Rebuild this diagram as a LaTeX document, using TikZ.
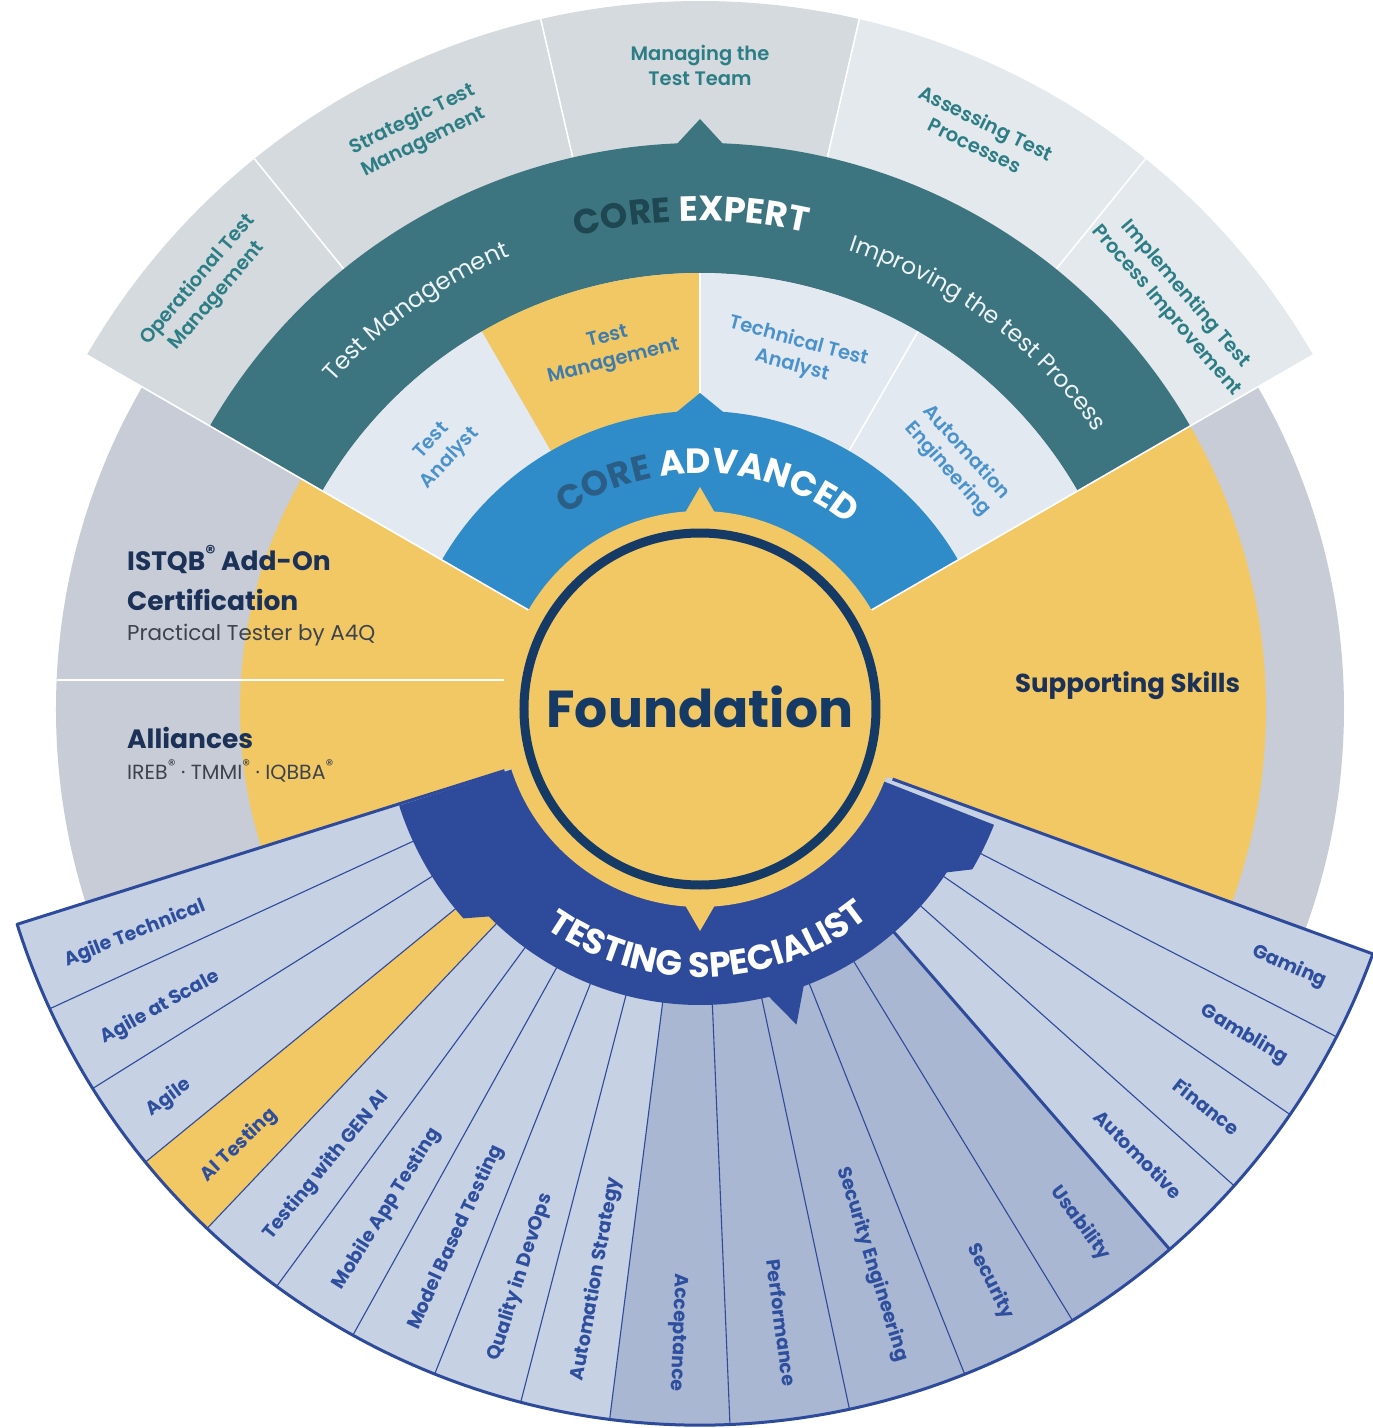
\documentclass[tikz,border=0pt]{standalone}
\usepackage{fontspec}
\setmainfont{Poppins}
\IfFontExistsTF{Poppins SemiBold}{\newfontfamily\psemi{Poppins SemiBold}}{%
 \IfFontExistsTF{Poppins-SemiBold}{\newfontfamily\psemi{Poppins-SemiBold}}{%
  \IfFontExistsTF{Poppins-SemiBold.ttf}{\newfontfamily\psemi{Poppins-SemiBold.ttf}}{%
   \IfFontExistsTF{Poppins-SemiBold.otf}{\newfontfamily\psemi{Poppins-SemiBold.otf}}{%
    \newfontfamily\psemi{Poppins}[FakeBold=2]}}}}
\usetikzlibrary{decorations.text}
\definecolor{ylw}{HTML}{F2C864}
\definecolor{greyc}{HTML}{C8CCD6}
\definecolor{advblue}{HTML}{2F8CC9}
\definecolor{cexp}{HTML}{3C7480}
\definecolor{cinner}{HTML}{E3E9F1}
\definecolor{couterA}{HTML}{D4DADD}
\definecolor{couterB}{HTML}{E3E9EC}
\definecolor{cnavy}{HTML}{2E4A9B}
\definecolor{cfanL}{HTML}{C6D1E4}
\definecolor{cfanD}{HTML}{A9B7D2}
\definecolor{cfound}{HTML}{163A66}
\definecolor{ctealtxt}{HTML}{2C7D86}
\definecolor{cbluetxt}{HTML}{4A92CB}
\definecolor{cdarktxt}{HTML}{1C3157}
\definecolor{cgreytxt}{HTML}{3D434D}
\definecolor{cexpcore}{HTML}{1E4752}
\definecolor{cadvcore}{HTML}{2A5E86}
\definecolor{cfantxt}{HTML}{2E4E9E}
\newcommand\wsector[5]{\fill[#1] (#2:#4pt) arc[start angle=#2,end angle=#3,radius=#4pt] -- (#3:#5pt) arc[start angle=#3,end angle=#2,radius=#5pt] -- cycle;}
\newcommand\regm{\raisebox{0.4em}{\scalebox{0.75}{\textregistered}}}
\begin{document}
\begin{tikzpicture}[x=1pt,y=1pt,
  fanlbl/.style={text=cfantxt,font=\bfseries\fontsize{19}{19}\selectfont,inner sep=0pt},
  explbl/.style={text=ctealtxt,font=\psemi\fontsize{19.5}{25}\selectfont,align=center,inner sep=0pt},
  innlbl/.style={text=cbluetxt,font=\psemi\fontsize{19.5}{25}\selectfont,align=center,inner sep=0pt},
  fanline/.style={draw=cnavy,line width=1.1pt},
  fanbold/.style={draw=cnavy,line width=3pt,line join=round},
  sepw/.style={draw=white,line width=1.6pt},
  lefttxt/.style={anchor=base west,inner sep=0pt}]
\useasboundingbox (-700,-719) rectangle (673,709);
\fill[white] (-700,-719) rectangle (673,709);
% grey circle
\fill[greyc] (0,0) circle[radius=644pt];
% yellow regions
\wsector{ylw}{150}{197.5}{100}{460}
\wsector{ylw}{-20}{30}{100}{566}
\draw[sepw] (-643.3,29) -- (-190,29);
% outer expert sectors
\wsector{couterA}{129}{150}{560}{708}
\wsector{couterA}{103}{129}{560}{708}
\wsector{couterA}{77}{103}{560}{708}
\wsector{couterB}{51}{77}{560}{708}
\wsector{couterB}{30}{51}{560}{708}
\foreach \a in {129,103,77,51} \draw[sepw] (\a:566pt) -- (\a:708pt);
% core expert band
\wsector{cexp}{30}{150}{436}{566}
\fill[cexp] (87.3:562pt) -- (90:590pt) -- (92.7:562pt) -- cycle;
% inner advanced sectors
\wsector{cinner}{120}{150}{296}{436}
\wsector{ylw}{90}{120}{296}{436}
\wsector{cinner}{30}{90}{296}{436}
\foreach \a in {90,60} \draw[sepw] (\a:298pt) -- (\a:436pt);
% core advanced band
\wsector{advblue}{30}{150}{190}{298}
\fill[advblue] (85:296pt) -- (90:316pt) -- (95:296pt) -- cycle;
\draw[sepw] (150:198pt) -- (150:708pt);
\draw[sepw] (30:198pt) -- (30:708pt);
% specialist fan
\wsector{cfanL}{197.5}{219.25}{200}{716}
\wsector{ylw}{219.25}{226.5}{200}{716}
\wsector{cfanL}{226.5}{262.75}{200}{716}
\wsector{cfanD}{262.75}{311}{200}{716}
\wsector{cfanL}{311}{340}{200}{716}
\foreach \a in {204.75,212,219.25,226.5,233.75,241,248.25,255.5,262.75,272.4,282.05,291.7,301.35,318.25,325.5,332.75}
  \draw[fanline] (\a:205pt) -- (\a:716pt);
\draw[fanbold] (311:205pt) -- (311:716pt);
\draw[fanbold] (197.5:205pt) -- (197.5:716pt) arc[start angle=197.5,end angle=340,radius=716pt] -- (340:205pt);
% testing specialist band
\fill[cnavy] (197.8:190pt) -- (197.8:316pt) arc[start angle=197.8,end angle=221.5,radius=316pt]
  -- (224.5:296pt) arc[start angle=224.5,end angle=283.5,radius=296pt]
  -- (287:330pt) -- (290.5:296pt) arc[start angle=290.5,end angle=326.5,radius=296pt]
  -- (329.5:316pt) arc[start angle=329.5,end angle=338.5,radius=316pt] -- (338.5:190pt) -- cycle;
% foundation
\fill[ylw] (0,0) circle[radius=198pt];
\fill[ylw] (85.5:196pt) -- (90:222pt) -- (94.5:196pt) -- cycle;
\fill[ylw] (265.5:196pt) -- (270:222pt) -- (274.5:196pt) -- cycle;
\draw[cfound,line width=9pt] (0,0) circle[radius=176pt];
\node[text=cfound,font=\bfseries\fontsize{52}{52}\selectfont,anchor=base,inner sep=0pt] (found) at (0,-18) {Foundation};
% arc texts
\path[decorate,decoration={text along path,text align=center,
  text={|\bfseries\fontsize{35}{35}\selectfont\color{cexpcore}|CORE |\bfseries\fontsize{35}{35}\selectfont\color{white}|EXPERT}}]
  (150:488pt) arc[start angle=150,end angle=32,radius=488pt];
\path[decorate,decoration={text along path,text align=center,
  text={|\bfseries\fontsize{35}{35}\selectfont\color{cadvcore}|CORE |\bfseries\fontsize{35}{35}\selectfont\color{white}|ADVANCED}}]
  (148:236pt) arc[start angle=148,end angle=28,radius=236pt];
\path[decorate,decoration={text along path,text align=center,
  text={|\bfseries\fontsize{35}{35}\selectfont\color{white}|TESTING SPECIALIST}}]
  (198:268pt) arc[start angle=198,end angle=346,radius=268pt];
\path[decorate,decoration={text along path,text align=center,
  text={|\fontsize{24}{24}\selectfont\color{white!92!cexp}|Test Management}}]
  (151:491pt) arc[start angle=151,end angle=100,radius=491pt];
\path[decorate,decoration={text along path,text align=center,
  text={|\fontsize{23.5}{23.5}\selectfont\color{white!92!cexp}|Improving the test Process}}]
  (82:482pt) arc[start angle=82,end angle=25,radius=482pt];
% expert labels
\node[explbl,rotate=49.5] (op) at (139.5:648pt) {Operational Test\\Management};
\node[explbl,rotate=26] (st) at (116:643pt) {Strategic Test\\Management};
\node[explbl] (mg) at (90:644pt) {Managing the\\Test Team};
\node[explbl,rotate=-26] (as) at (64:640pt) {Assessing Test\\Processes};
\node[explbl,rotate=-49.5] (im) at (40.5:626pt) {Implementing Test\\Process Improvement};
% inner labels
\node[innlbl,rotate=47] (ta) at (135:366pt) {Test\\Analyst};
\node[innlbl,rotate=14,text=cbluetxt!85!black] (tm) at (104:370pt) {Test\\Management};
\node[innlbl,rotate=-15] (tta) at (75:368pt) {Technical Test\\Analyst};
\node[innlbl,rotate=-48] (ae) at (44:357pt) {Automation\\Engineering};
% fan labels
\foreach \a/\t [count=\k] in {201.7/Agile Technical,208.95/Agile at Scale,216.2/Agile,223.45/AI Testing,230.7/Testing with GEN AI,237.95/Mobile App Testing,245.2/Model Based Testing,252.45/Quality in DevOps,259.7/Automation Strategy}
  \node[fanlbl,anchor=west,rotate=\a-180] (fl\k) at (\a:683pt) {\t};
\foreach \a/\t [count=\k] in {267.95/Acceptance,277.6/Performance,287.25/Security Engineering,296.9/Security,306.5/Usability,314.6/Automotive,321.9/Finance,329.1/Gambling,336.4/Gaming}
  \node[fanlbl,anchor=east,rotate=\a-360] (fr\k) at (\a:683pt) {\t};
% left texts
\node[lefttxt,text=cdarktxt,font=\bfseries\fontsize{26.5}{26.5}\selectfont] (addon) at (-573,139) {ISTQB\regm{} Add-On};
\node[lefttxt,text=cdarktxt,font=\bfseries\fontsize{26.5}{26.5}\selectfont] (cert) at (-573,99) {Certification};
\node[lefttxt,text=cgreytxt,font=\fontsize{21.5}{21.5}\selectfont] (pract) at (-573,69) {Practical Tester by A4Q};
\node[lefttxt,text=cdarktxt,font=\bfseries\fontsize{26.5}{26.5}\selectfont] (all) at (-573,-39) {Alliances};
\node[lefttxt,text=cgreytxt,font=\fontsize{20.5}{20.5}\selectfont] (ireb) at (-573,-70) {IREB\regm{} · TMMI\regm{} · IQBBA\regm};
\node[lefttxt,text=cdarktxt,font=\bfseries\fontsize{26}{26}\selectfont] (supp) at (315,17) {Supporting Skills};
\end{tikzpicture}
\end{document}
